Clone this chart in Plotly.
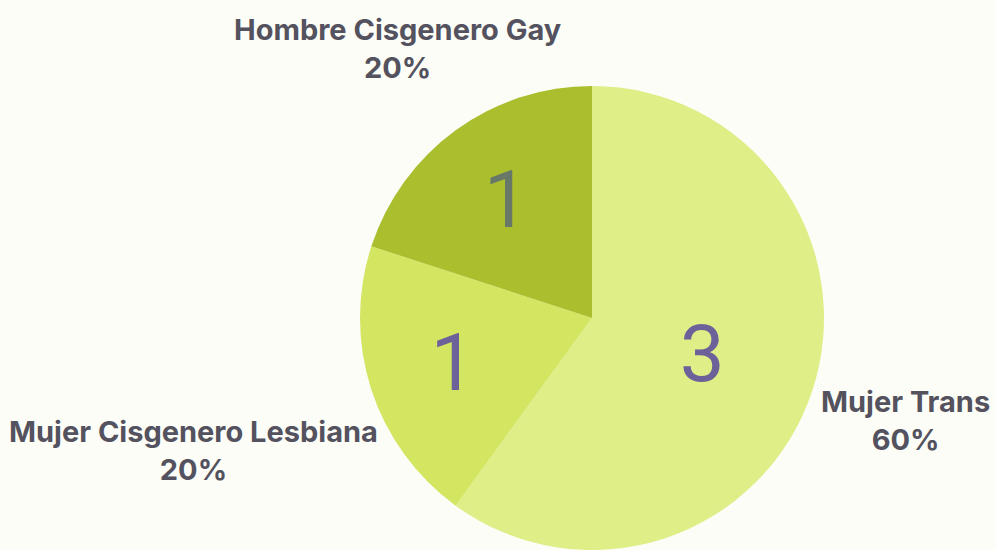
import plotly.graph_objects as go

labels = ["Mujer Trans", "Mujer Cisgenero Lesbiana", "Hombre Cisgenero Gay"]
values = [3, 1, 1]
colors = ["#dfee86", "#d3e561", "#abbe2e"]
num_colors = ["#6c6198", "#6c6198", "#687868"]

total = sum(values)
label_pos = [(905, 420), (193, 450), (397, 48)]  # pixel centers

W, H = 996, 550
R = 232
cx, cy = 592, 318

fig = go.Figure(go.Pie(
    labels=labels, values=values, sort=False, direction="clockwise", rotation=0,
    marker=dict(colors=colors, line=dict(width=0)),
    texttemplate="%{value}", textposition="inside", insidetextorientation="horizontal",
    textfont=dict(family="Roboto", size=80, color=num_colors),
    hoverinfo="label+value+percent", showlegend=False,
    domain=dict(x=[(cx - R) / W, (cx + R) / W], y=[max(0, 1 - (cy + R) / H), 1 - (cy - R) / H]),
))

anns = []
for lab, v, (px, py) in zip(labels, values, label_pos):
    anns.append(dict(
        x=px / W, y=1 - py / H, xref="paper", yref="paper", showarrow=False,
        text=f"<b>{lab}</b><br><b>{round(100 * v / total)}%</b>",
        font=dict(family="Inter", size=29, color="#53525e"), align="center",
        xanchor="center", yanchor="middle",
    ))

fig.update_layout(
    width=W, height=H, margin=dict(l=0, r=0, t=0, b=0),
    paper_bgcolor="#fcfdf7", plot_bgcolor="#fcfdf7", annotations=anns,
)
fig.write_html("out.html")
